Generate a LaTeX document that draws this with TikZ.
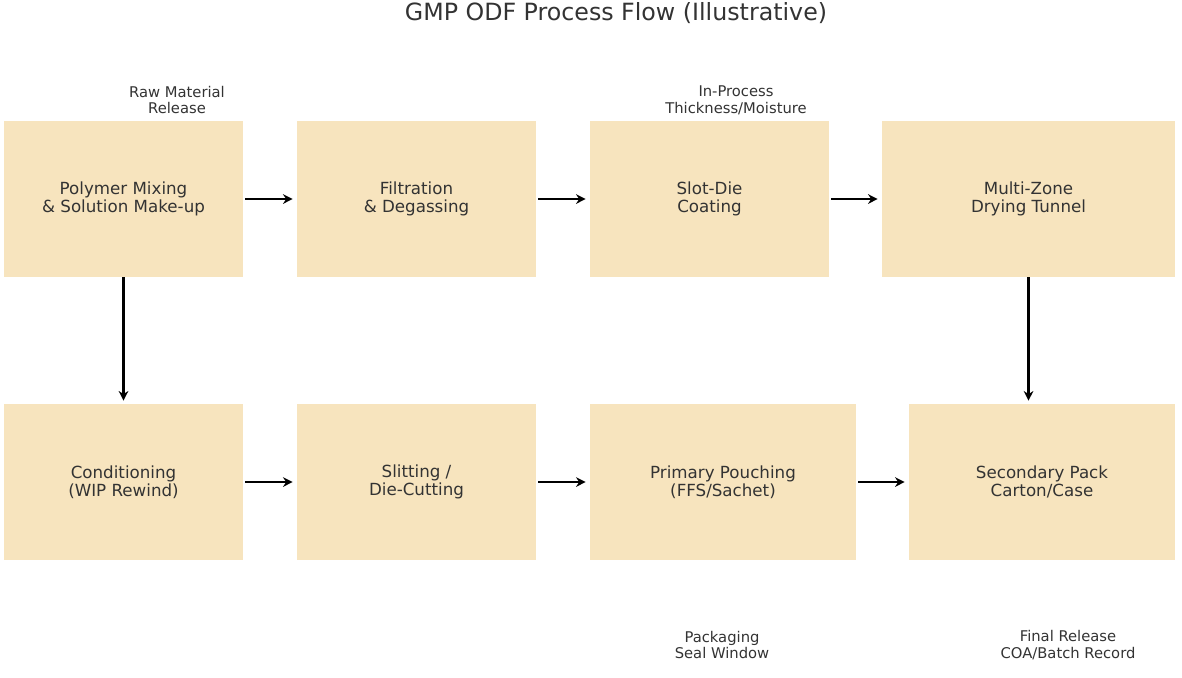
\documentclass[tikz,border=0pt]{standalone}
\usepackage{fontspec}
\setmainfont{DejaVu Sans}
\usetikzlibrary{arrows.meta}

\definecolor{stepfill}{HTML}{F7E4BE}
\definecolor{textgray}{HTML}{333333}

\tikzset{
  stage/.style={fill=stepfill, draw=none, minimum height=3.12cm, align=center,
    text=textgray, font=\fontsize{9.5}{10.3}\selectfont, inner sep=0pt},
  narrow/.style={stage, minimum width=4.78cm},
  wide/.style={stage, minimum width=5.32cm},
  wider/.style={stage, minimum width=5.86cm},
  flow/.style={line width=1.2pt, black, -{Stealth[length=5.5pt, width=5.5pt]}, shorten <=0.04cm, shorten >=0.08cm},
  note/.style={align=center, text=textgray, font=\fontsize{8.4}{9.6}\selectfont}
}

\begin{document}
\begin{tikzpicture}[x=0.02cm, y=-0.02cm]
  \useasboundingbox (0,0) rectangle (1182,677);

  % ---- Title ----
  \node[text=textgray, font=\fontsize{13.5}{16}\selectfont] (title) at (616,13) {GMP ODF Process Flow (Illustrative)};

  % ---- Upper row ----
  \node[narrow] (mixing) at (123.5,199) {Polymer Mixing\\\& Solution Make-up};
  \node[narrow] (filtration) at (416.5,199) {Filtration\\\& Degassing};
  \node[narrow] (coating) at (709.5,199) {Slot-Die\\Coating};
  \node[wider] (drying) at (1028.5,199) {Multi-Zone\\Drying Tunnel};

  % ---- Lower row ----
  \node[narrow] (conditioning) at (123.5,482) {Conditioning\\(WIP Rewind)};
  \node[narrow] (slitting) at (416.5,482) {Slitting /\\Die-Cutting};
  \node[wide] (pouching) at (723,482) {Primary Pouching\\(FFS/Sachet)};
  \node[wide] (secondary) at (1042,482) {Secondary Pack\\Carton/Case};

  % Checkpoint notes
  \node[note] (rawrelease) at (177,100) {Raw Material\\Release};
  \node[note] (inprocess) at (736,100) {In-Process\\Thickness/Moisture};
  \node[note] (sealwindow) at (722,645) {Packaging\\Seal Window};
  \node[note] (finalrelease) at (1068,645) {Final Release\\COA/Batch Record};

  % Flow arrows
  \draw[flow] (mixing) -- (filtration);
  \draw[flow] (filtration) -- (coating);
  \draw[flow] (coating) -- (drying);
  \draw[flow, shorten <=0cm, shorten >=0.06cm] (mixing) -- (conditioning);
  \draw[flow, shorten <=0cm, shorten >=0.06cm] (drying.south) -- (drying.south |- secondary.north);
  \draw[flow] (conditioning) -- (slitting);
  \draw[flow] (slitting) -- (pouching);
  \draw[flow] (pouching) -- (secondary);

\end{tikzpicture}
\end{document}
